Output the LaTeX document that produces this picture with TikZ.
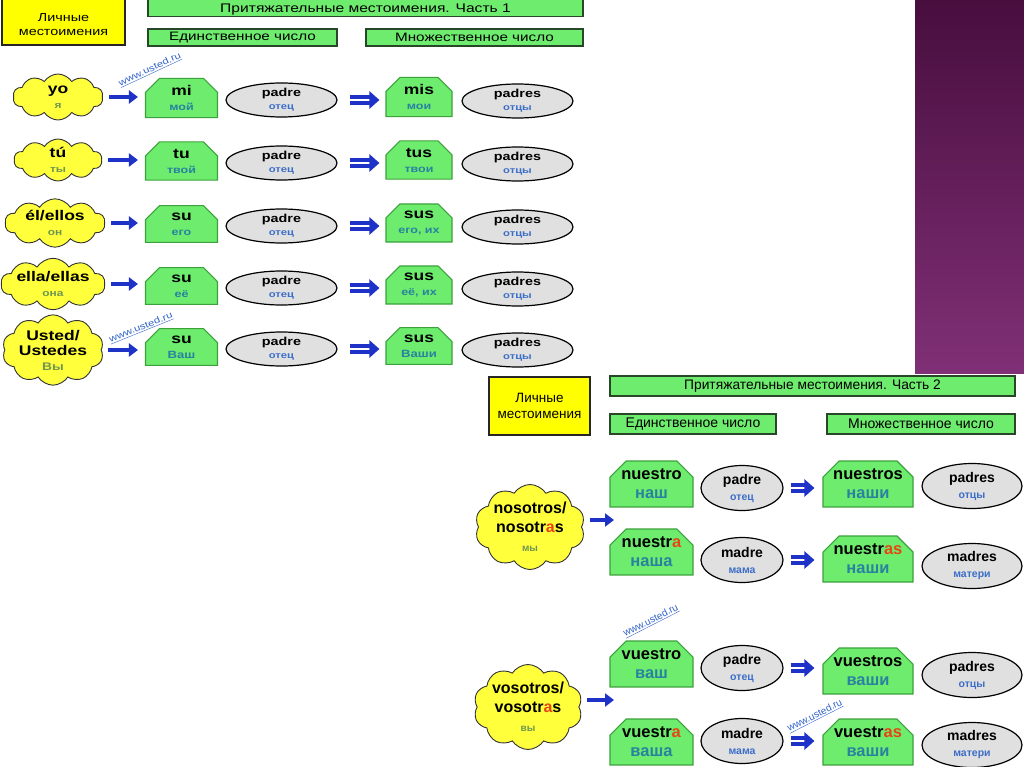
\documentclass[tikz,border=0pt]{standalone}
\usepackage{fontspec}
\setmainfont{Liberation Sans}
\newfontfamily\wideF[FakeStretch=1.25]{Liberation Sans}
\usetikzlibrary{shapes.symbols,shapes.misc,shapes.geometric,arrows.meta}
\definecolor{gfill}{RGB}{110,236,110}
\definecolor{gedge}{RGB}{60,160,60}
\definecolor{bedge}{RGB}{40,70,40}
\definecolor{yel}{RGB}{255,255,0}
\definecolor{cyel}{RGB}{255,255,60}
\definecolor{egray}{RGB}{224,224,224}
\definecolor{arrblue}{RGB}{30,50,200}
\definecolor{ruCloud}{RGB}{110,150,80}
\definecolor{ruBox}{RGB}{40,130,160}
\definecolor{ruEll}{RGB}{60,110,200}
\definecolor{redA}{RGB}{230,70,20}
\definecolor{urlblue}{RGB}{50,100,200}
\definecolor{purpTop}{RGB}{72,14,62}
\definecolor{purpBot}{RGB}{128,48,118}
\newcommand\rCl[1]{{\color{ruCloud}#1}}
\newcommand\rBx[1]{{\color{ruBox}#1}}
\newcommand\rEl[1]{{\color{ruEll}#1}}
\newcommand\rA[1]{{\color{redA}#1}}
\newcommand\PRow[9]{%
  \node[cldA, minimum width=#4pt, minimum height=#5pt] (c#1) at (#3,#6) {#7};
  \node[gboxA, minimum width=72pt] (b#1) at (181.5,#2) {#8};
  \node[ellA] (e#1) at (281.5,#2+2) {\textbf{padre}\\{\fontsize{9}{9}\selectfont\rEl{отец}}};
  \node[gboxA, minimum width=66pt] (f#1) at (419,#2-1) {#9};
  \node[ellA] (g#1) at (517.5,#2+3) {\textbf{padres}\\{\fontsize{9}{9}\selectfont\rEl{отцы}}};
  \draw[sarr, shorten <=6pt, shorten >=7pt] (c#1.east) -- (c#1.east -| b#1.west);
  \draw[darr, shorten <=12pt, shorten >=6pt] (e#1.east) -- (e#1.east -| f#1.west);
}
\begin{document}
\begin{tikzpicture}[x=1pt,y=-1pt,
  ybox/.style={draw=black!85, fill=yel, line width=1.3pt, inner sep=0pt},
  gbar/.style={draw=bedge, fill=gfill, line width=1.3pt, inner sep=0pt},
  gboxA/.style={chamfered rectangle, chamfered rectangle corners={north west,north east},
     chamfered rectangle xsep=7pt, chamfered rectangle ysep=7pt,
     draw=gedge, fill=gfill, line width=1.1pt, inner sep=0pt, align=center,
     minimum height=32pt, font=\wideF\fontsize{14}{15}\selectfont\bfseries},
  gboxB/.style={chamfered rectangle, chamfered rectangle corners={north west,north east},
     chamfered rectangle xsep=8pt, chamfered rectangle ysep=8pt,
     draw=gedge, fill=gfill, line width=1.1pt, inner sep=0pt, align=center,
     minimum height=38pt, font=\fontsize{16.5}{19}\selectfont\bfseries},
  ellA/.style={ellipse, draw=black, fill=egray, line width=1.2pt, inner sep=0pt, align=center,
     minimum width=111pt, minimum height=34pt, font=\wideF\fontsize{11.5}{13}\selectfont\bfseries},
  ellB/.style={ellipse, draw=black, fill=egray, line width=1.2pt, inner sep=0pt, align=center,
     minimum height=45pt, font=\fontsize{14}{16}\selectfont\bfseries},
  cldA/.style={cloud, cloud puffs=10, cloud puff arc=115, cloud ignores aspect,
     draw=black!80, fill=cyel, line width=0.9pt, inner sep=0pt, align=center,
     font=\wideF\fontsize{14}{15}\selectfont\bfseries},
  cldB/.style={cloud, cloud puffs=10, cloud puff arc=115, cloud ignores aspect,
     draw=black!80, fill=cyel, line width=0.9pt, inner sep=0pt, align=center,
     minimum width=100pt, minimum height=85pt, font=\fontsize{16}{19}\selectfont\bfseries},
  sarr/.style={draw=arrblue, line width=4.5pt, -{Triangle[length=9pt,width=13pt]}},
  darr/.style={draw=arrblue, double=white, double distance=1.6pt, line width=4pt,
     -{Triangle[length=10pt,width=17pt]}},
  url/.style={inner sep=0pt, text=urlblue}
]
\useasboundingbox (0,0) rectangle (1024,767);
\fill[white] (0,0) rectangle (1024,767);
\shade[top color=purpTop, bottom color=purpBot] (915,0) rectangle (1024,373);

% ---------- Part 1 ----------
\node[ybox, minimum width=123pt, minimum height=50pt] (lm1) at (63.5,20) {};
\node[font=\wideF\fontsize{11.5}{14}\selectfont, align=center] (lm1t) at (63.5,25) {Личные\\местоимения};
\node[gbar, minimum width=435pt, minimum height=21pt] (t1) at (365.5,6) {};
\node[font=\wideF\fontsize{12.5}{13}\selectfont, inner sep=0pt] (t1t) at (365.5,9.5) {Притяжательные местоимения. Часть 1};
\node[gbar, minimum width=189pt, minimum height=17pt, font=\wideF\fontsize{12.2}{13}\selectfont] (s1) at (242.5,37.5) {Единственное число};
\node[gbar, minimum width=217pt, minimum height=17pt, font=\wideF\fontsize{12.2}{13}\selectfont] (p1) at (474.5,37.5) {Множественное число};

\PRow{1}{98}{58}{90}{46}{97}{yo\\{\fontsize{9.5}{9.5}\selectfont\rCl{я}}}{mi\\{\fontsize{10}{10}\selectfont\rBx{мой}}}{mis\\{\fontsize{10}{10}\selectfont\rBx{мои}}}
\PRow{2}{161}{58}{88}{42}{160}{tú\\{\fontsize{9.5}{9.5}\selectfont\rCl{ты}}}{tu\\{\fontsize{10}{10}\selectfont\rBx{твой}}}{tus\\{\fontsize{10}{10}\selectfont\rBx{твои}}}
\PRow{3}{224}{55}{100}{44}{223}{él/ellos\\{\fontsize{9.5}{9.5}\selectfont\rCl{он}}}{su\\{\fontsize{10}{10}\selectfont\rBx{его}}}{sus\\{\fontsize{10}{10}\selectfont\rBx{его, их}}}
\PRow{4}{286}{53}{100}{44}{284}{ella/ellas\\{\fontsize{9.5}{9.5}\selectfont\rCl{она}}}{su\\{\fontsize{10}{10}\selectfont\rBx{её}}}{sus\\{\fontsize{10}{10}\selectfont\rBx{её, их}}}
\PRow{5}{347}{53}{100}{62}{350}{Usted/\\Ustedes\\{\fontsize{11}{11}\selectfont\rCl{Вы}}}{su\\{\fontsize{10.5}{10.5}\selectfont\rBx{Ваш}}}{sus\\{\fontsize{10.5}{10.5}\selectfont\rBx{Ваши}}}

\node[url, rotate=25, font=\wideF\fontsize{9}{9}\selectfont] (u1) at (150,70) {\underline{www.usted.ru}};
\node[url, rotate=22, font=\wideF\fontsize{9}{9}\selectfont] (u2) at (141,328) {\underline{www.usted.ru}};

% ---------- Part 2 ----------
\node[ybox, minimum width=101pt, minimum height=58pt, align=center, font=\fontsize{13.5}{16}\selectfont] (lm2) at (539.5,406) {Личные\\местоимения};
\node[gbar, minimum width=405pt, minimum height=20pt, font=\fontsize{13.8}{14}\selectfont] (t2) at (812.5,386) {Притяжательные местоимения. Часть 2};
\node[gbar, minimum width=166pt, minimum height=20pt, font=\fontsize{14}{14}\selectfont] (s2) at (693,424) {Единственное число};
\node[gbar, minimum width=188pt, minimum height=20pt, font=\fontsize{14}{14}\selectfont] (p2) at (921,424) {Множественное число};

% nosotros
\node[cldB] (cn) at (530,527) {nosotros/\\nosotr\rA{a}s\\{\fontsize{10}{10}\selectfont\rCl{мы}}};
\coordinate (na) at (614,520);
\draw[sarr, shorten <=8pt] (cn.east |- na) -- (na);

\node[gboxB, minimum width=83pt] (b6) at (651.5,484) {nuestro\\\rBx{наш}};
\node[ellB, minimum width=82pt] (e6) at (742,488) {padre\\{\fontsize{10.5}{10.5}\selectfont\rEl{отец}}};
\node[gboxB, minimum width=90pt] (f6) at (868,484) {nuestros\\\rBx{наши}};
\node[ellB, minimum width=100pt] (g6) at (972,486) {padres\\{\fontsize{10.5}{10.5}\selectfont\rEl{отцы}}};
\draw[darr, shorten <=7pt, shorten >=8pt] (e6.east) -- (e6.east -| f6.west);

\node[gboxB, minimum width=83pt] (b7) at (651.5,552) {nuestr\rA{a}\\\rBx{наша}};
\node[ellB, minimum width=82pt] (e7) at (742,560) {madre\\{\fontsize{10.5}{10.5}\selectfont\rEl{мама}}};
\node[gboxB, minimum width=90pt] (f7) at (868,559) {nuestr\rA{as}\\\rBx{наши}};
\node[ellB, minimum width=100pt] (g7) at (972,566) {madres\\{\fontsize{10.5}{10.5}\selectfont\rEl{матери}}};
\draw[darr, shorten <=7pt, shorten >=8pt] (e7.east) -- (e7.east -| f7.west);

% vosotros
\node[cldB] (cv) at (528,707) {vosotros/\\vosotr\rA{a}s\\{\fontsize{10}{10}\selectfont\rCl{вы}}};
\coordinate (va) at (614,700);
\draw[sarr, shorten <=8pt] (cv.east |- va) -- (va);

\node[gboxB, minimum width=83pt] (b8) at (651.5,664) {vuestro\\\rBx{ваш}};
\node[ellB, minimum width=82pt] (e8) at (742,668) {padre\\{\fontsize{10.5}{10.5}\selectfont\rEl{отец}}};
\node[gboxB, minimum width=90pt] (f8) at (868,671) {vuestros\\\rBx{ваши}};
\node[ellB, minimum width=100pt] (g8) at (972,675) {padres\\{\fontsize{10.5}{10.5}\selectfont\rEl{отцы}}};
\draw[darr, shorten <=7pt, shorten >=8pt] (e8.east) -- (e8.east -| f8.west);

\node[gboxB, minimum width=83pt] (b9) at (651.5,742) {vuestr\rA{a}\\\rBx{ваша}};
\node[ellB, minimum width=82pt] (e9) at (742,741) {madre\\{\fontsize{10.5}{10.5}\selectfont\rEl{мама}}};
\node[gboxB, minimum width=90pt] (f9) at (868,742) {vuestr\rA{as}\\\rBx{ваши}};
\node[ellB, minimum width=100pt] (g9) at (972,745) {madres\\{\fontsize{10.5}{10.5}\selectfont\rEl{матери}}};
\draw[darr, shorten <=7pt, shorten >=8pt] (e9.east) -- (e9.east -| f9.west);

\node[url, rotate=27, font=\fontsize{10}{10}\selectfont] (u3) at (651,621) {\underline{www.usted.ru}};
\node[url, rotate=27, font=\fontsize{10}{10}\selectfont] (u4) at (815,716) {\underline{www.usted.ru}};
\end{tikzpicture}
\end{document}
